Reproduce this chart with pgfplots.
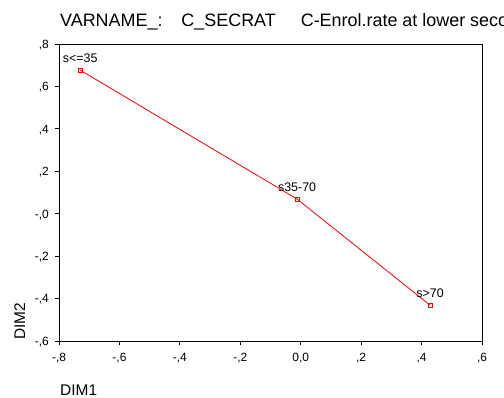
\documentclass[border=0pt]{standalone}
\usepackage{pgfplots}
\pgfplotsset{compat=1.18}
\usepackage{pgfplotstable}
\usepackage{fontspec}
\setmainfont{Liberation Sans}
\pgfplotstableread{
x y label
-0.730 0.677 {s<=35}
-0.012 0.069 {s35-70}
0.428 -0.431 {s>70}
}\dimdata
\begin{document}
\begin{tikzpicture}
\path[use as bounding box] (0,0) rectangle (504bp,398bp);
\begin{axis}[
  at={(59bp,57bp)}, anchor=south west,
  scale only axis, width=423bp, height=297bp,
  xmin=-0.8, xmax=0.6, ymin=-0.6, ymax=0.8,
  xtick={-0.8,-0.6,-0.4,-0.2,0,0.2,0.4,0.6},
  xticklabels={{-,8},{-,6},{-,4},{-,2},{0,0},{,2},{,4},{,6}},
  ytick={-0.6,-0.4,-0.2,0,0.2,0.4,0.6,0.8},
  yticklabels={{-,6},{-,4},{-,2},{-,0},{,2},{,4},{,6},{,8}},
  tick align=outside, tick pos=left,
  major tick length=4bp,
  axis line style={line width=0.9bp, black},
  every tick/.style={line width=0.9bp, black},
  xticklabel style={font=\fontsize{12}{14}\selectfont, anchor=base, inner sep=0pt, yshift=-16bp},
  yticklabel style={font=\fontsize{12}{14}\selectfont, anchor=base east, inner sep=0pt, xshift=-6bp, yshift=-4.3bp},
  xlabel={DIM1}, ylabel={DIM2},
  every axis x label/.style={at={(rel axis cs:0,0)}, anchor=base west, inner sep=0pt, xshift=1bp, yshift=-54.5bp, font=\fontsize{15.5}{18}\selectfont},
  every axis y label/.style={at={(rel axis cs:0,0)}, xshift=-34bp, yshift=1bp, rotate=90, anchor=base west, inner sep=0pt, font=\fontsize{15.5}{18}\selectfont},
  title={VARNAME\_:\hspace{19bp}C\_SECRAT\hspace{25bp}C-Enrol.rate at lower secondary},
  every axis title/.style={at={(rel axis cs:0,1)}, anchor=base west, inner sep=0pt, xshift=1bp, yshift=17.5bp, font=\fontsize{18}{21}\selectfont},
  clip=false,
]
\addplot[red, line width=0.8bp, mark=square, mark size=2bp, mark options={solid, line width=0.8bp},
  nodes near coords, point meta=explicit symbolic,
  every node near coord/.style={anchor=base, inner sep=0pt, yshift=8bp, black, font=\fontsize{12.5}{14}\selectfont}]
  table[x=x, y=y, meta=label] {\dimdata};
\end{axis}
\end{tikzpicture}
\end{document}
